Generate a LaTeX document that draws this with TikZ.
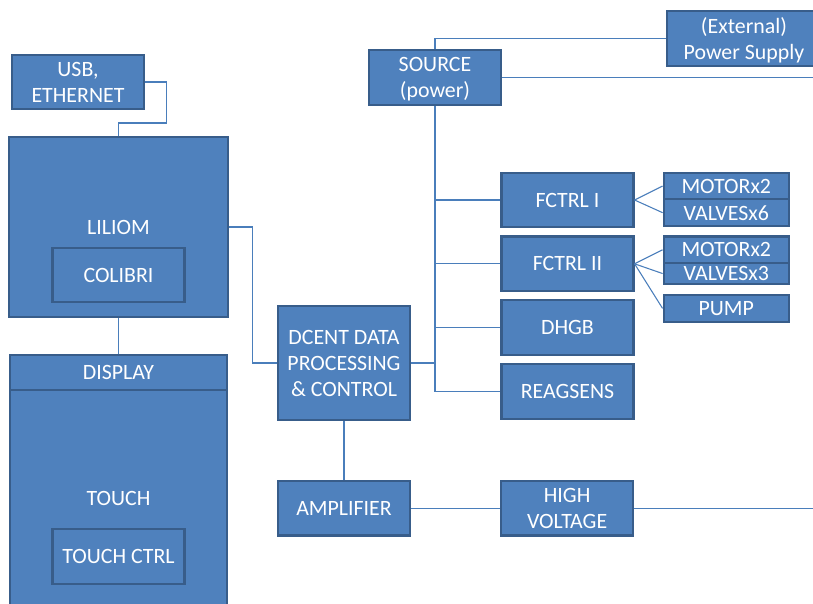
\documentclass[tikz,border=0pt]{standalone}
\usepackage{fontspec}
\setmainfont{Carlito}
\usepackage{tikz}
\usetikzlibrary{positioning,calc}
\definecolor{cfill}{HTML}{4F81BD}
\definecolor{cedge}{HTML}{385D8A}
\definecolor{cline}{HTML}{4A7EBB}

\begin{document}
\begin{tikzpicture}[
    x=0.75pt, y=-0.75pt,
    box/.style={draw=cedge, fill=cfill, line width=1.6pt, text=white,
                font=\fontsize{16.4}{19.5}\selectfont, align=center, inner sep=0pt,
                text depth=0pt, minimum width=99pt, minimum height=41pt},
    smallbox/.style={box, minimum width=94pt, minimum height=20pt},
    wire/.style={draw=cline, line width=0.8pt},
]

\useasboundingbox (0,0) rectangle (813,603);
\clip (0,0) rectangle (813,603);
\coordinate (rim) at (813,0);

% Host side: interface, main board, display
\node[box] (usb) at (78,82) {USB,\\ETHERNET};
\node[box, minimum width=164pt, minimum height=135pt] (liliom) at (118.5,227) {LILIOM};
\node[box] (colibri) at ([yshift=-36pt]liliom.center) {COLIBRI};

\node[box, minimum width=162.5pt, minimum height=26pt, below=27pt of liliom] (display) {DISPLAY};
\node[box, minimum width=162.5pt, minimum height=163pt, below=-1.6pt of display] (touch) {TOUCH};
\node[box] (touch_ctrl) at ([yshift=-43.5pt]touch.center) {TOUCH CTRL};

% Controller and analog chain
\node[box, minimum height=85.5pt] (dcent) at (344,363) {DCENT DATA\\PROCESSING\\\& CONTROL};
\node[box, below=44pt of dcent] (amplifier) {AMPLIFIER};
\node[box, right=66.75pt of amplifier] (high_voltage) {HIGH\\VOLTAGE};

% Power
\node[box] (source) at (435,77.5) {SOURCE\\(power)};
\node[box, minimum width=115.5pt] (ext_supply) at (744,38.5) {(External)\\Power Supply};

% Peripheral boards, stacked under each other
\node[box] (fctrl1) at (567.5,200) {FCTRL I};
\node[box, below=5.25pt of fctrl1] (fctrl2)   {FCTRL II};
\node[box, below=5.25pt of fctrl2] (dhgb)     {DHGB};
\node[box, below=5.25pt of dhgb]   (reagsens) {REAGSENS};

% Actuators
\node[smallbox, anchor=north west] (motor1) at ([xshift=21pt]fctrl1.north east) {MOTORx2};
\node[smallbox, below=-1.6pt of motor1] (valves6) {VALVESx6};
\node[smallbox, anchor=north west] (motor2) at ([xshift=21pt]fctrl2.north east) {MOTORx2};
\node[smallbox, minimum height=15.6pt, below=-1.6pt of motor2] (valves3) {VALVESx3};
\node[smallbox, below=6.75pt of valves3] (pump) {PUMP};

% ── Connections ──

% Host links
\draw[wire] (usb.east) -- ++(21,0) -- ++(0,41) -| (liliom.north);
\draw[wire] (liliom.south) -- (display.north);
\draw[wire] (liliom.east) -- ++(24,0) |- (dcent.west);

% Power bus
\draw[wire] (ext_supply.west) -| (source.north);
\draw[wire] (source.east) -- (source.east -| rim);
\draw[wire] (source.south) |- (reagsens.west);
\foreach \n in {fctrl1,fctrl2,dhgb}
    \draw[wire] (source.south |- \n.west) -- (\n.west);
\draw[wire] (dcent.east) -- (dcent.east -| source.south);

% Analog chain
\draw[wire] (dcent.south) -- (amplifier.north);
\draw[wire] (amplifier.east) -- (high_voltage.west);
\draw[wire] (high_voltage.east) -- (high_voltage.east -| rim);

% Drivers to actuators
\foreach \n in {motor1,valves6}
    \draw[wire] (fctrl1.east) -- (\n.west);
\foreach \n in {motor2,valves3,pump}
    \draw[wire] (fctrl2.east) -- (\n.west);

\end{tikzpicture}
\end{document}
